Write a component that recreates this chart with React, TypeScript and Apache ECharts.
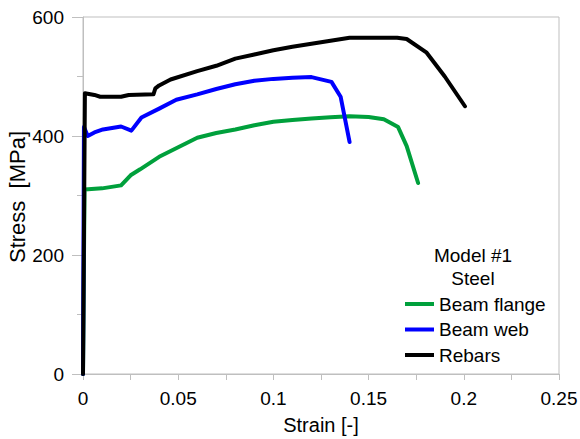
import React, { useEffect, useRef } from "react";
import * as echarts from "echarts";

const seriesNames = ["Beam flange", "Beam web", "Rebars"];
const seriesColors = ["#00a03c", "#0000ff", "#000000"];

const flangeStrain = [0, 0.0008, 0.01, 0.02, 0.025, 0.03, 0.04, 0.05, 0.06, 0.07, 0.08, 0.09, 0.1, 0.11, 0.12, 0.13, 0.14, 0.15, 0.158, 0.1655, 0.17, 0.176];
const flangeStress = [0, 310, 312, 317, 334, 344, 365, 381, 397, 405, 411, 418, 424, 427, 429.5, 431.5, 433, 432, 428, 415, 383, 321];

const webStrain = [0, 0.0005, 0.0025, 0.006, 0.0105, 0.02, 0.0254, 0.0307, 0.04, 0.049, 0.06, 0.07, 0.08, 0.09, 0.1, 0.11, 0.12, 0.1305, 0.1353, 0.14];
const webStress = [0, 415, 400, 406, 411, 416, 409, 431, 446, 461, 470, 479, 487, 493, 496, 498, 499, 491, 466, 390];

const rebarStrain = [0, 0.001, 0.006, 0.009, 0.02, 0.024, 0.037, 0.038, 0.04, 0.046, 0.06, 0.07, 0.08, 0.09, 0.1, 0.11, 0.12, 0.13, 0.14, 0.165, 0.17, 0.1805, 0.19, 0.2006];
const rebarStress = [0, 472, 469, 466, 466, 469, 470, 480, 485, 495, 509, 518, 530, 537, 544, 550, 555, 560, 565, 565, 563, 540, 500, 450];

const xTicks = { min: 0, max: 0.25, interval: 0.05 };
const yTicks = { min: 0, max: 600, interval: 200 };

const xTitle = "Strain [-]";
const yTitle = "Stress  [MPa]";
const legendTitle = ["Model #1", "Steel"];

const zip = (xs: number[], ys: number[]) => xs.map((x, i) => [x, ys[i]]);

export default function App() {
  const ref = useRef<HTMLDivElement>(null);
  useEffect(() => {
    if (!ref.current) return;
    const chart = echarts.init(ref.current, undefined, { renderer: "svg" });
    const font = "'Liberation Sans', Arial, sans-serif";
    const grey = "#bfbfbf";
    const data = [zip(flangeStrain, flangeStress), zip(webStrain, webStress), zip(rebarStrain, rebarStress)];
    chart.setOption({
      animation: false,
      textStyle: { fontFamily: font },
      grid: {
        left: 83, right: 21, top: 17, bottom: 65,
        show: true, borderColor: grey, borderWidth: 1,
        containLabel: false, outerBoundsMode: "none",
      },
      xAxis: {
        type: "value",
        min: xTicks.min,
        max: xTicks.max,
        interval: xTicks.interval,
        name: xTitle,
        nameLocation: "middle",
        nameGap: 41,
        nameTextStyle: { fontSize: 20, color: "#000", fontFamily: font },
        axisLine: { show: true, lineStyle: { color: grey } },
        axisTick: { show: true, length: 6, lineStyle: { color: grey } },
        minorTick: { show: true, splitNumber: 2, length: 6, lineStyle: { color: grey } },
        splitLine: { show: false },
        axisLabel: {
          fontSize: 19,
          color: "#000",
          margin: 15,
          fontFamily: font,
          formatter: (v: number) => String(Number(v.toFixed(3))),
        },
      },
      yAxis: {
        type: "value",
        min: yTicks.min,
        max: yTicks.max,
        interval: yTicks.interval,
        axisLine: { show: true, lineStyle: { color: grey } },
        axisTick: { show: true, length: 11, lineStyle: { color: grey } },
        minorTick: { show: true, splitNumber: 2, length: 6, lineStyle: { color: grey } },
        splitLine: { show: false },
        axisLabel: { fontSize: 19, color: "#000", margin: 19, fontFamily: font },
      },
      legend: {
        orient: "vertical",
        left: 400,
        top: 289,
        icon: "rect",
        itemWidth: 29,
        itemHeight: 4,
        itemGap: 5.5,
        data: seriesNames,
        textStyle: { fontSize: 19, color: "#000", lineHeight: 20, fontFamily: font },
      },
      graphic: [
        {
          type: "text",
          x: 17,
          y: 197,
          rotation: Math.PI / 2,
          style: { text: yTitle, fill: "#000", font: `22px ${font}`, textAlign: "center", textVerticalAlign: "middle" },
        },
        {
          type: "text",
          x: 473,
          y: 255,
          style: { text: legendTitle[0], fill: "#000", font: `19px ${font}`, textAlign: "center", textVerticalAlign: "middle" },
        },
        {
          type: "text",
          x: 473,
          y: 278,
          style: { text: legendTitle[1], fill: "#000", font: `19px ${font}`, textAlign: "center", textVerticalAlign: "middle" },
        },
      ],
      series: seriesNames.map((name, i) => ({
        name,
        type: "line",
        data: data[i],
        showSymbol: false,
        symbol: "none",
        color: seriesColors[i],
        lineStyle: { width: 4, color: seriesColors[i], join: "round", cap: "round" },
      })),
    });
    return () => chart.dispose();
  }, []);
  return <div ref={ref} style={{ position: "absolute", left: 0, top: 0, width: 580, height: 439 }} />;
}
